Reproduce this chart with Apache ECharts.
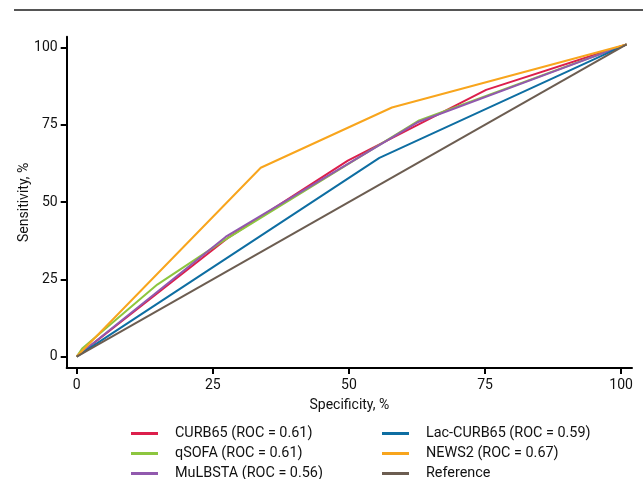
<html>
    <head>
        <meta charset="utf-8">
        <script src="https://cdn.jsdelivr.net/npm/echarts@6/dist/echarts.min.js"></script>
    </head>
    <body style="margin:0">
        <div id="main" style="width:643px;height:479px"></div>
        <script>

        // ROC points: [100 - specificity axis value, sensitivity]
        var curb65 = [[0, 0], [27.7, 38.3], [49.8, 63.4], [75.2, 86.3], [101, 101]];
        var qsofa = [[0, 0], [1, 2.6], [14.8, 23.3], [27, 37.5], [62.9, 76.4], [101, 101]];
        var mulbsta = [[0, 0], [27.4, 38.8], [62.6, 75.8], [101, 101]];
        var lacCurb65 = [[0, 0], [55.6, 64.3], [101, 101]];
        var news2 = [[0, 0], [33.8, 61.1], [57.9, 80.6], [101, 101]];
        var reference = [[0, 0], [101, 101]];

        var seriesNames = [
            'CURB65 (ROC = 0.61)',
            'qSOFA (ROC = 0.61)',
            'MuLBSTA (ROC = 0.56)',
            'Lac-CURB65 (ROC = 0.59)',
            'NEWS2 (ROC = 0.67)',
            'Reference'
        ];
        var seriesData = [curb65, qsofa, mulbsta, lacCurb65, news2, reference];
        var colors = ['#DC1F4C', '#8DC63F', '#9159AE', '#0E6EA2', '#F8A51D', '#6C5D51'];
        var tickValues = [0, 25, 50, 75, 100];

        var font = 'Roboto';

        var myChart = echarts.init(document.getElementById('main'));

        var series = [];
        for (var i = 0; i < seriesData.length; i++) {
            series.push({
                name: seriesNames[i],
                type: 'line',
                data: seriesData[i],
                symbol: 'none',
                showSymbol: false,
                color: colors[i],
                lineStyle: {width: 2, color: colors[i]}
            });
        }

        function makeLegend(left, names) {
            return {
                orient: 'vertical',
                left: left,
                top: 426.5,
                height: 90,
                padding: 0,
                icon: 'rect',
                itemWidth: 27,
                itemHeight: 3,
                itemGap: 6,
                data: names,
                textStyle: {
                    fontFamily: font,
                    fontSize: 14.4,
                    lineHeight: 14,
                    color: '#111',
                    padding: [0, 0, 0, 12]
                }
            };
        }

        myChart.setOption({
            animation: false,
            backgroundColor: '#fff',
            color: colors,
            graphic: [{
                type: 'line',
                shape: {x1: 14, y1: 10, x2: 643, y2: 10},
                style: {stroke: '#555', lineWidth: 2}
            }],
            legend: [
                makeLegend(131, seriesNames.slice(0, 3)),
                makeLegend(382, seriesNames.slice(3))
            ],
            grid: {
                left: 66.7,
                right: 11,
                top: 36.7,
                bottom: 111,
                containLabel: false
            },
            xAxis: {
                type: 'value',
                min: -1.84,
                max: 102,
                name: 'Specificity, %',
                nameLocation: 'middle',
                nameGap: 30,
                nameMoveOverlap: false,
                nameTextStyle: {fontFamily: font, fontSize: 14, color: '#111'},
                axisLine: {show: true, onZero: false, lineStyle: {color: '#000', width: 2}},
                axisTick: {show: true, length: 6, customValues: tickValues, lineStyle: {color: '#000', width: 2}},
                axisLabel: {margin: 10, customValues: tickValues, fontFamily: font, fontSize: 14, color: '#111'},
                splitLine: {show: false}
            },
            yAxis: {
                type: 'value',
                min: -3.7,
                max: 103.5,
                name: 'Sensitivity, %',
                nameLocation: 'middle',
                nameGap: 35,
                nameMoveOverlap: false,
                nameTextStyle: {fontFamily: font, fontSize: 14, color: '#111'},
                axisLine: {show: true, onZero: false, lineStyle: {color: '#000', width: 2}},
                axisTick: {show: true, length: 6, customValues: tickValues, lineStyle: {color: '#000', width: 2}},
                axisLabel: {margin: 9, customValues: tickValues, fontFamily: font, fontSize: 14, color: '#111'},
                splitLine: {show: false}
            },
            series: series
        });

        </script>
    </body>
</html>
